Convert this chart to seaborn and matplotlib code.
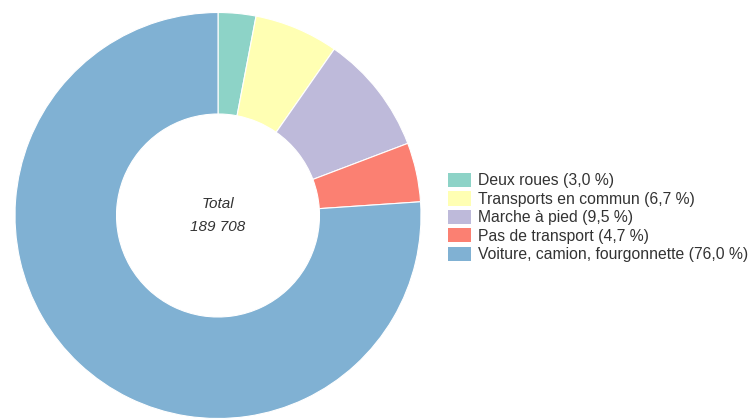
import matplotlib
matplotlib.use("Agg")
import matplotlib.pyplot as plt
import seaborn as sns
from matplotlib.patches import Patch

# Data
categories = ["Deux roues", "Transports en commun", "Marche à pied",
              "Pas de transport", "Voiture, camion, fourgonnette"]
values = [3.0, 6.7, 9.5, 4.7, 76.0]
legend_labels = ["Deux roues (3,0 %)", "Transports en commun (6,7 %)",
                 "Marche à pied (9,5 %)", "Pas de transport (4,7 %)",
                 "Voiture, camion, fourgonnette (76,0 %)"]
total_label = "Total"
total_value = "189 708"

sns.set_theme(style="white")
plt.rcParams['font.family'] = ['Liberation Sans', 'DejaVu Sans']

colors = sns.color_palette("Set3", 5)

W, H = 755, 420
fig = plt.figure(figsize=(W / 100, H / 100), dpi=100)
fig.patch.set_facecolor("white")

cx, cy, R = 218, 215.5, 203
ax = fig.add_axes([(cx - R) / W, (H - cy - R) / H, 2 * R / W, 2 * R / H])
wedges, _ = ax.pie(values, colors=colors, startangle=90, counterclock=False,
                   radius=1.0,
                   wedgeprops=dict(width=0.5, edgecolor="white", linewidth=0.8))
ax.set_xlim(-1, 1)
ax.set_ylim(-1, 1)
ax.set_aspect("equal")
ax.axis("off")

ax.text(0, 0.058, total_label, ha="center", va="center", fontsize=11,
        style="italic", color="#333333")
ax.text(0, -0.058, total_value, ha="center", va="center", fontsize=11,
        style="italic", color="#333333")

fs = 11.3
px = fs * 100 / 72
handles = [Patch(facecolor=c, edgecolor="none") for c in colors]
leg = fig.legend(handles, legend_labels, loc="center left",
                 bbox_to_anchor=(448 / W, (H - 217.5) / H),
                 frameon=False, fontsize=fs, borderpad=0, borderaxespad=0,
                 handlelength=23 / px, handleheight=16 / px,
                 handletextpad=7 / px, labelspacing=0.19)
for t in leg.get_texts():
    t.set_color("#333333")

fig.savefig("out.png", dpi=100, facecolor="white")
